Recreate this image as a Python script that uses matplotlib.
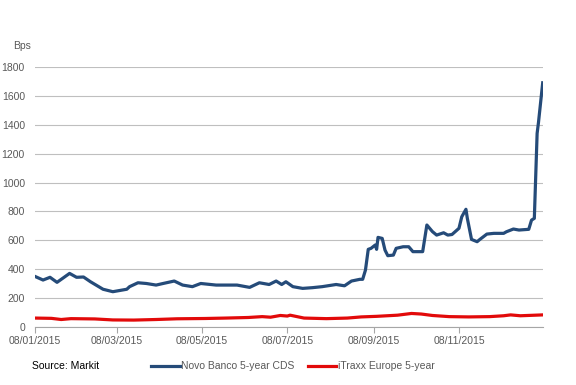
import pandas as pd
import matplotlib.pyplot as plt
import matplotlib.dates as mdates
from matplotlib.lines import Line2D

plt.rcParams["font.family"] = ["Liberation Sans", "DejaVu Sans"]

# Novo Banco 5-year CDS (bps)
nb_dates = ["2015-01-08", "2015-01-14", "2015-01-19", "2015-01-24", "2015-02-02", "2015-02-07",
            "2015-02-12", "2015-02-17", "2015-02-26", "2015-03-05", "2015-03-15", "2015-03-17",
            "2015-03-23", "2015-03-29", "2015-04-05", "2015-04-10", "2015-04-18", "2015-04-24",
            "2015-05-01", "2015-05-07", "2015-05-18", "2015-06-02", "2015-06-11", "2015-06-18",
            "2015-06-25", "2015-06-30", "2015-07-04", "2015-07-07", "2015-07-12", "2015-07-19",
            "2015-07-26", "2015-08-02", "2015-08-12", "2015-08-18", "2015-08-23", "2015-08-29",
            "2015-08-31", "2015-09-02", "2015-09-04", "2015-09-06", "2015-09-09", "2015-09-10",
            "2015-09-11", "2015-09-14", "2015-09-16", "2015-09-18", "2015-09-22", "2015-09-24",
            "2015-09-29", "2015-10-03", "2015-10-06", "2015-10-13", "2015-10-16", "2015-10-20",
            "2015-10-23", "2015-10-28", "2015-10-31", "2015-11-03", "2015-11-08", "2015-11-10",
            "2015-11-13", "2015-11-14", "2015-11-17", "2015-11-21", "2015-11-23", "2015-11-28",
            "2015-12-03", "2015-12-10", "2015-12-12", "2015-12-17", "2015-12-21", "2015-12-28",
            "2015-12-30", "2016-01-01", "2016-01-03", "2016-01-04", "2016-01-07"]
nb_values = [350, 324, 343, 308, 370, 343,
             345, 312, 260, 243, 260, 278,
             305, 300, 289, 300, 317, 289,
             278, 300, 289, 289, 273, 305,
             293, 317, 293, 312, 278, 266,
             271, 278, 293, 284, 317, 329,
             329, 393, 537, 544, 567, 537,
             620, 613, 532, 493, 497, 544,
             555, 555, 521, 521, 706, 660,
             636, 652, 636, 640, 683, 763,
             815, 752, 606, 590, 606, 643,
             648, 648, 659, 678, 671, 676,
             740, 752, 1342, 1420, 1693]

# iTraxx Europe 5-year (bps)
it_dates = ["2015-01-08", "2015-01-20", "2015-01-27", "2015-02-03", "2015-02-20", "2015-03-05",
            "2015-03-20", "2015-04-05", "2015-04-20", "2015-05-10", "2015-05-25", "2015-06-10",
            "2015-06-20", "2015-06-26", "2015-07-03", "2015-07-08", "2015-07-10", "2015-07-20",
            "2015-08-05", "2015-08-20", "2015-08-30", "2015-09-10", "2015-09-25", "2015-10-05",
            "2015-10-12", "2015-10-20", "2015-11-01", "2015-11-15", "2015-11-30", "2015-12-10",
            "2015-12-15", "2015-12-22", "2016-01-07"]
it_values = [60, 58, 50, 56, 54, 47,
             46, 50, 55, 57, 60, 64,
             70, 66, 78, 74, 80, 60,
             56, 60, 68, 72, 80, 92,
             88, 78, 70, 68, 70, 76,
             82, 76, 82]

tick_dates = ["2015-01-08", "2015-03-08", "2015-05-08", "2015-07-08", "2015-09-08", "2015-11-08"]

nb = pd.Series(nb_values, index=pd.to_datetime(nb_dates))
it = pd.Series(it_values, index=pd.to_datetime(it_dates))

blue = "#254b79"
red = "#e20a0a"
grey = "#595959"

fig = plt.figure(figsize=(5.76, 3.85), dpi=100)
ax = fig.add_axes([0.0602, 0.1514, 0.8820, 0.6736])

ax.plot(nb.index, nb.values, color=blue, lw=2.3, solid_joinstyle="round")
ax.plot(it.index, it.values, color=red, lw=2.3, solid_joinstyle="round")

ax.set_xlim(pd.Timestamp("2015-01-08"), pd.Timestamp("2016-01-07"))
ax.set_ylim(0, 1800)
ax.set_yticks(range(0, 1801, 200))
ax.set_xticks(pd.to_datetime(tick_dates))
ax.xaxis.set_major_formatter(mdates.DateFormatter("%d/%m/%Y"))

ax.grid(axis="y", color="#bfbfbf", lw=0.8)
ax.set_axisbelow(True)
for s in ["left", "right", "top"]:
    ax.spines[s].set_visible(False)
ax.spines["bottom"].set_color("#a6a6a6")
ax.tick_params(axis="y", length=0, labelsize=7.5, labelcolor=grey, pad=7)
ax.tick_params(axis="x", length=4, color="#a6a6a6", labelsize=7.5, labelcolor=grey, pad=3)

fig.text(22 / 576, 1 - 46 / 385, "Bps", fontsize=7.5, color=grey, ha="center", va="center")
fig.text(32 / 576, 1 - 366 / 385, "Source: Markit", fontsize=7.5, color="black", va="center")

# legend
y_leg = 1 - 366 / 385
fig.add_artist(Line2D([151 / 576, 180 / 576], [y_leg, y_leg], color=blue, lw=2.3))
fig.text(181 / 576, y_leg, "Novo Banco 5-year CDS", fontsize=7.5, color=grey, va="center")
fig.add_artist(Line2D([308 / 576, 336 / 576], [y_leg, y_leg], color=red, lw=2.3))
fig.text(338 / 576, y_leg, "iTraxx Europe 5-year", fontsize=7.5, color=grey, va="center")

plt.savefig("out.png", dpi=100)
